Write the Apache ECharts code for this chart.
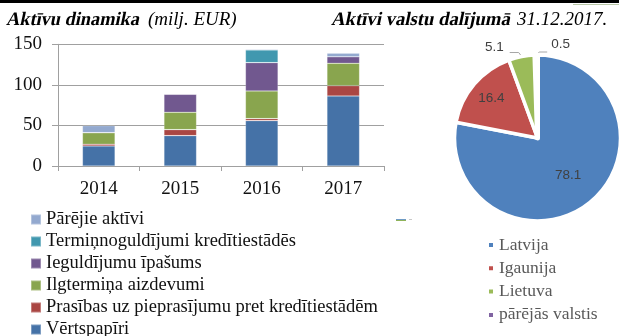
<!DOCTYPE html>
<html>
<head>
<meta charset="utf-8">
<script src="https://cdn.jsdelivr.net/npm/echarts@6/dist/echarts.min.js"></script>
<style>
  html, body { margin: 0; padding: 0; background: #fff; }
  #chart { width: 619px; height: 336px; }
</style>
</head>
<body>
<div id="chart"></div>
<script>
// Asset structure by year (milj. EUR), stacked from the bottom up
const years = ['2014', '2015', '2016', '2017'];
const vertspapiri = [24.7, 37.4, 55.9, 86.3];
const prasibas = [2.1, 7.4, 2.5, 12.7];
const ilgtermina = [14.3, 21.4, 34.1, 27.6];
const ieguldijumu = [0, 22.2, 34.9, 8.1];
const terminnoguldijumi = [0, 0, 15.6, 0];
const parejie = [8.6, 0.6, 1.0, 4.2];
const yTicks = [0, 50, 100, 150];

// Assets by country, 31.12.2017 (%)
const countries = ['Latvija', 'Igaunija', 'Lietuva', 'pārējās valstis'];
const countryShares = [78.1, 16.4, 5.1, 0.5];

const serif = 'Liberation Serif';
const sans = 'Liberation Sans';

const barColors = {
  'Vērtspapīri': '#4572a7',
  'Prasības uz pieprasījumu pret kredītiestādēm': '#aa4643',
  'Ilgtermiņa aizdevumi': '#89a54e',
  'Ieguldījumu īpašums': '#71588f',
  'Termiņnoguldījumi kredītiestādēs': '#4198af',
  'Pārējie aktīvi': '#93a9cf'
};
const barSeriesData = [
  ['Vērtspapīri', vertspapiri],
  ['Prasības uz pieprasījumu pret kredītiestādēm', prasibas],
  ['Ilgtermiņa aizdevumi', ilgtermina],
  ['Ieguldījumu īpašums', ieguldijumu],
  ['Termiņnoguldījumi kredītiestādēs', terminnoguldijumi],
  ['Pārējie aktīvi', parejie]
];
const pieColors = ['#4f81bd', '#c0504d', '#9bbb59', '#8064a2'];

// pie geometry
const pieCenter = [537.5, 138];
const pieRadius = 83;
// inner label distance as a share of the radius
const innerLabelShare = [0.58, 0.73];

const chart = echarts.init(document.getElementById('chart'), null, { renderer: 'canvas' });

const barSeries = barSeriesData.map(([name, values]) => ({
  name,
  type: 'bar',
  stack: 'assets',
  barWidth: '40%',
  data: values,
  itemStyle: { color: barColors[name], borderColor: 'rgba(255,255,255,0.3)', borderWidth: 0.6 },
  emphasis: { disabled: true }
}));

// heading pieces: bold parts are slanted and narrowed so they read as bold italic
function heading(text, x, bold, squeeze) {
  return {
    type: 'text',
    x: x, y: 20,
    skewX: bold ? -0.21 : 0,
    scaleX: squeeze || 1,
    silent: true,
    style: {
      text: text,
      x: 0, y: 0,
      align: 'left', verticalAlign: 'middle',
      fontFamily: serif, fontSize: 19,
      fontWeight: bold ? 'bold' : 'normal',
      fontStyle: bold ? 'normal' : 'italic',
      fill: '#000'
    }
  };
}

const option = {
  animation: false,
  backgroundColor: '#fff',
  legend: [
    {
      orient: 'vertical',
      left: 30, top: 210, height: 150, padding: 0,
      itemWidth: 10, itemHeight: 10, itemGap: 3,
      icon: 'rect',
      data: barSeriesData.map(d => d[0]).reverse(),
      textStyle: { fontFamily: serif, fontSize: 18.5, color: '#111' },
      selectedMode: false
    },
    {
      orient: 'vertical',
      left: 487, top: 236, padding: 0,
      itemWidth: 6, itemHeight: 6, itemGap: 5.3,
      icon: 'rect',
      data: countries.map((name, i) => ({ name, itemStyle: { color: pieColors[i] } })),
      textStyle: { fontFamily: serif, fontSize: 17.5, lineHeight: 18, color: '#595959' },
      selectedMode: false
    }
  ],
  grid: { left: 58, top: 44.3, width: 326, height: 121.7, containLabel: false },
  xAxis: {
    type: 'category',
    data: years,
    boundaryGap: true,
    axisLine: { lineStyle: { color: '#a0a0a0', width: 1 } },
    axisTick: { show: true, length: 5, alignWithLabel: false, lineStyle: { color: '#a0a0a0' } },
    axisLabel: { fontFamily: serif, fontSize: 19, color: '#111', margin: 14 }
  },
  yAxis: {
    type: 'value',
    min: yTicks[0], max: yTicks[yTicks.length - 1], interval: yTicks[1] - yTicks[0],
    axisLine: { show: true, lineStyle: { color: '#a0a0a0', width: 1 } },
    axisTick: { show: true, length: 6, lineStyle: { color: '#a0a0a0' } },
    splitLine: { lineStyle: { color: '#a0a0a0', width: 1 } },
    axisLabel: { fontFamily: serif, fontSize: 19, color: '#111', margin: 16 }
  },
  series: [
    ...barSeries,
    {
      name: 'valstis',
      type: 'pie',
      center: pieCenter,
      radius: pieRadius,
      startAngle: 90,
      clockwise: true,
      avoidLabelOverlap: false,
      emphasis: { disabled: true },
      itemStyle: { borderColor: '#fff', borderWidth: 3.5 },
      label: {
        fontFamily: sans, fontSize: 13.5, color: '#404040',
        formatter: p => p.value.toFixed(1)
      },
      labelLine: { show: true, length: 6, length2: 8, smooth: false, lineStyle: { color: '#a6a6a6', width: 1 } },
      labelLayout: function (params) {
        const i = params.dataIndex;
        const r = params.labelRect;
        if (i < 2) {
          // push inner labels outward along their own direction
          const cx = r.x + r.width / 2, cy = r.y + r.height / 2;
          const vx = cx - pieCenter[0], vy = cy - pieCenter[1];
          const len = Math.sqrt(vx * vx + vy * vy) || 1;
          const target = innerLabelShare[i] * pieRadius;
          return { dx: vx / len * (target - len), dy: vy / len * (target - len) };
        }
        const p0 = params.labelLinePoints[0];
        if (i === 2) {
          return {
            x: p0[0] - 18, y: p0[1] - 9, align: 'right', verticalAlign: 'middle',
            labelLinePoints: [p0, [p0[0] - 3, p0[1] - 4], [p0[0] - 12, p0[1] - 4]]
          };
        }
        return {
          x: p0[0] + 15, y: p0[1] - 11, align: 'left', verticalAlign: 'middle',
          labelLinePoints: [p0, [p0[0] + 3, p0[1] - 3], [p0[0] + 11, p0[1] - 3]]
        };
      },
      data: countries.map((name, i) => ({
        name,
        value: countryShares[i],
        itemStyle: i === 3
          ? { color: pieColors[i], borderWidth: 5 }
          : { color: pieColors[i] },
        label: { position: i < 2 ? 'inside' : 'outside' },
        labelLine: { show: i >= 2 }
      }))
    }
  ],
  graphic: [
    { type: 'rect', left: 0, top: 0, shape: { width: 619, height: 3 }, style: { fill: '#000' }, silent: true },
    { type: 'rect', left: 573, top: 4, shape: { width: 46, height: 1 }, style: { fill: '#b9c8a8' }, silent: true },
    { type: 'rect', left: 396, top: 219, shape: { width: 10, height: 1 }, style: { fill: '#6f9bc4' }, silent: true },
    { type: 'rect', left: 396, top: 220, shape: { width: 10, height: 1 }, style: { fill: '#8fb35a' }, silent: true },
    { type: 'rect', left: 409, top: 219, shape: { width: 3, height: 1 }, style: { fill: '#c8c8c8' }, silent: true },
    heading('Aktīvu dinamika', 7, true, 0.965),
    heading('(milj. EUR)', 148, false),
    heading('Aktīvi valstu dalījumā', 332, true, 0.985),
    heading('31.12.2017.', 517, false)
  ]
};

chart.setOption(option);
</script>
</body>
</html>
